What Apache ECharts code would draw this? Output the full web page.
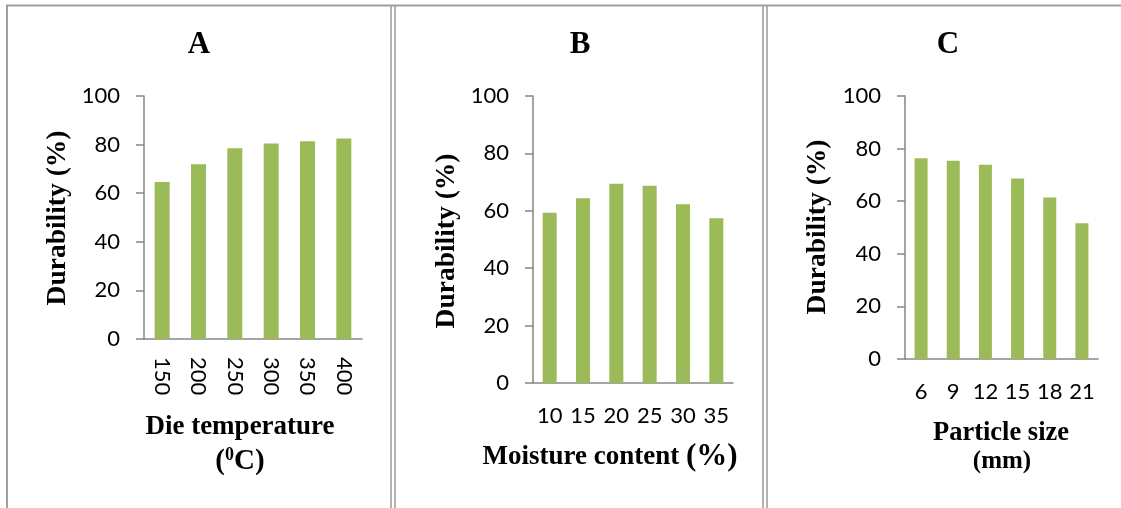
<!DOCTYPE html>
<html>
<head>
<meta charset="utf-8">
<script src="https://cdn.jsdelivr.net/npm/echarts@6/dist/echarts.min.js"></script>
<style>
html,body{margin:0;padding:0;background:#fff;}
#c{width:1121px;height:508px;}
</style>
</head>
<body>
<div id="c"></div>
<script>
// Data
const catA = ['150','200','250','300','350','400'];
const valA = [64.6, 71.9, 78.5, 80.5, 81.4, 82.5];
const catB = ['10','15','20','25','30','35'];
const valB = [59.3, 64.4, 69.4, 68.7, 62.3, 57.4];
const catC = ['6','9','12','15','18','21'];
const valC = [76.3, 75.4, 73.9, 68.6, 61.4, 51.6];
const yTicks = [0, 20, 40, 60, 80, 100];

const chart = echarts.init(document.getElementById('c'), null, {renderer: 'canvas'});
const axisGray = '#868686';
const barColor = '#9BBB59';
const numFont = 'Lato';
const serif = '"Liberation Serif", "Times New Roman", serif';

function yAxis(idx) {
  return {
    type: 'value', gridIndex: idx, min: 0, max: 100, interval: 20,
    axisLine: {show: true, lineStyle: {color: axisGray, width: 1.5}},
    axisTick: {show: true, length: 8, lineStyle: {color: axisGray, width: 1.5}},
    splitLine: {show: false},
    axisLabel: {color: '#000', fontFamily: numFont, fontSize: 22, margin: 24,
      formatter: v => yTicks.includes(v) ? String(v) : ''}
  };
}
function xAxis(idx, cats, rotate, margin) {
  return {
    type: 'category', gridIndex: idx, data: cats,
    axisLine: {show: true, lineStyle: {color: axisGray, width: 1.5}},
    axisTick: {show: false},
    axisLabel: {color: '#000', fontFamily: numFont, fontSize: 22, rotate: rotate, margin: margin, interval: 0}
  };
}
function txt(x, y, text, size, rot, rich) {
  const o = {type: 'text', x: x, y: y, rotation: rot || 0,
    style: {text: text, fontFamily: serif, fontWeight: 'bold', fontSize: size, fill: '#000',
      align: 'center', verticalAlign: 'middle'}};
  if (rich) o.style.rich = rich;
  return o;
}
function vline(x, w) {
  return {type: 'line', shape: {x1: x, y1: 5, x2: x, y2: 508}, style: {stroke: '#a0a0a0', lineWidth: w}};
}

chart.setOption({
  animation: false,
  backgroundColor: '#fff',
  grid: [
    {left: 144, right: 1121 - 362, top: 96, bottom: 508 - 339},
    {left: 533, right: 1121 - 733, top: 96, bottom: 508 - 383},
    {left: 905, right: 1121 - 1098, top: 96, bottom: 508 - 359}
  ],
  xAxis: [xAxis(0, catA, -90, 18), xAxis(1, catB, 0, 22), xAxis(2, catC, 0, 22)],
  yAxis: [yAxis(0), yAxis(1), yAxis(2)],
  series: [
    {type: 'bar', xAxisIndex: 0, yAxisIndex: 0, data: valA, barWidth: 15, itemStyle: {color: barColor}},
    {type: 'bar', xAxisIndex: 1, yAxisIndex: 1, data: valB, barWidth: 14, itemStyle: {color: barColor}},
    {type: 'bar', xAxisIndex: 2, yAxisIndex: 2, data: valC, barWidth: 13, itemStyle: {color: barColor}}
  ],
  graphic: [
    // frame
    {type: 'line', shape: {x1: 6, y1: 5.5, x2: 1121, y2: 5.5}, style: {stroke: '#a0a0a0', lineWidth: 2}},
    vline(7, 2), vline(391, 1.6), vline(395, 1.6), vline(763, 1.6), vline(767, 1.6),
    // titles
    txt(199, 45, 'A', 31), txt(580, 45, 'B', 31), txt(948, 45, 'C', 31),
    // y names
    txt(58, 218, 'Durability (%)', 27.5, Math.PI / 2),
    txt(447, 241, 'Durability (%)', 27.5, Math.PI / 2),
    txt(818, 227, 'Durability (%)', 27.5, Math.PI / 2),
    // x names
    txt(240, 427, 'Die temperature', 27),
    txt(240, 462, '{a|(}{s|0}{a|C)}', 27, 0, {
      a: {fontFamily: serif, fontWeight: 'bold', fontSize: 29, fill: '#000'},
      s: {fontFamily: serif, fontWeight: 'bold', fontSize: 18, fill: '#000', padding: [0, 0, 13, 0]}
    }),
    txt(610, 457, '{a|Moisture content }{b|(%)}', 27, 0, {
      a: {fontFamily: serif, fontWeight: 'bold', fontSize: 27, fill: '#000'},
      b: {fontFamily: serif, fontWeight: 'bold', fontSize: 31, fill: '#000'}
    }),
    txt(1001, 433, 'Particle size', 26.5),
    txt(1002, 462, '(mm)', 25)
  ]
});
</script>
</body>
</html>
